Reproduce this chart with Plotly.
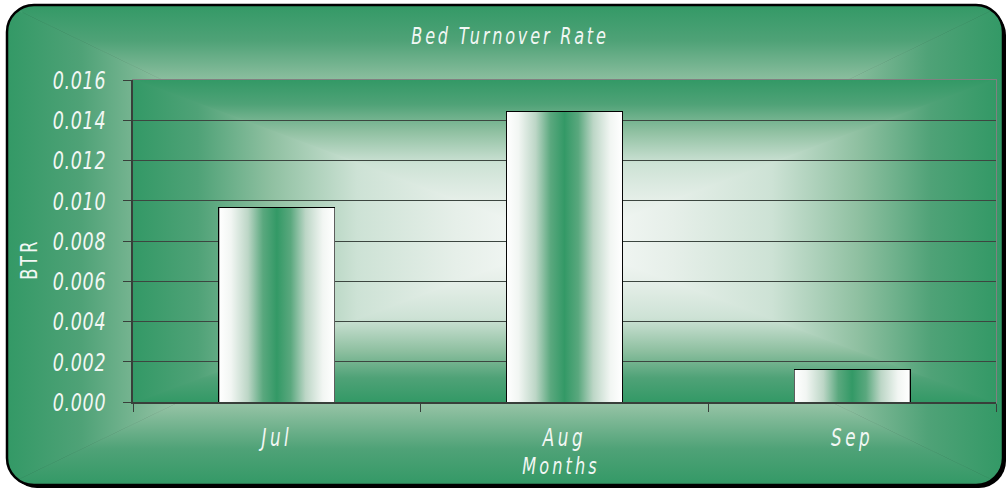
import base64
import plotly.graph_objects as go

# ---- data ----
months = ["Jul", "Aug", "Sep"]
btr = [0.00964, 0.01441, 0.00159]
y_ticks = [0.000, 0.002, 0.004, 0.006, 0.008, 0.010, 0.012, 0.014, 0.016]

title_text = "Bed Turnover Rate"
x_title = "Months"
y_title = "BTR"

# ---- style ----
W, H = 1008, 491
ML, MR, MT, MB = 133, 12, 80, 89
GREEN = "#339966"
FONT = "DejaVu Sans, sans-serif"
TXT = "#f2f7f4"
BAR_W = 0.4
AX = "#383f3a"

grad_stops = [(0, GREEN), (0.15, "#4fa277"), (0.32, "#8fc0a1"), (0.52, "#cde2d5"),
              (0.75, "#e6efe9"), (1, "#f9fbfa")]


def lin_grad(gid, x1, y1, x2, y2):
    stops = "".join(f"<stop offset='{o}' stop-color='{c}'/>" for o, c in grad_stops)
    return (f"<linearGradient id='{gid}' gradientUnits='userSpaceOnUse' x1='{x1}' y1='{y1}' "
            f"x2='{x2}' y2='{y2}'>{stops}</linearGradient>")


def rect_gradient(x0, y0, x1, y1):
    cx, cy = (x0 + x1) / 2, (y0 + y1) / 2
    defs = (lin_grad("gt", 0, y0, 0, cy) + lin_grad("gb", 0, y1, 0, cy)
            + lin_grad("gl", x0, 0, cx, 0) + lin_grad("gr", x1, 0, cx, 0))
    tris = [
        ("gt", f"{x0},{y0} {x1},{y0} {cx},{cy}"),
        ("gb", f"{x0},{y1} {x1},{y1} {cx},{cy}"),
        ("gl", f"{x0},{y0} {x0},{y1} {cx},{cy}"),
        ("gr", f"{x1},{y0} {x1},{y1} {cx},{cy}"),
    ]
    body = "".join(f"<polygon points='{p}' fill='url(#{g})' stroke='url(#{g})' stroke-width='0.6'/>"
                   for g, p in tris)
    return defs, body


# chart-area background (rounded rectangle with shadow)
rx0, ry0, rx1, ry1 = 7, 5, 1003, 485
d1, b1 = rect_gradient(rx0, ry0, rx1, ry1)
svg_chart = (
    f"<svg xmlns='http://www.w3.org/2000/svg' width='{W}' height='{H}' viewBox='0 0 {W} {H}' "
    f"preserveAspectRatio='none'><defs>{d1}<clipPath id='c'><rect x='{rx0}' y='{ry0}' "
    f"width='{rx1-rx0}' height='{ry1-ry0}' rx='27'/></clipPath></defs>"
    f"<rect x='{rx0+3}' y='{ry0+3}' width='{rx1-rx0}' height='{ry1-ry0}' rx='27' fill='#000'/>"
    f"<g clip-path='url(#c)'>{b1}</g>"
    f"<rect x='{rx0}' y='{ry0}' width='{rx1-rx0}' height='{ry1-ry0}' rx='27' fill='none' "
    f"stroke='#000' stroke-width='2.5'/></svg>"
)
d2, b2 = rect_gradient(0, 0, 100, 100)
svg_plot = (
    "<svg xmlns='http://www.w3.org/2000/svg' width='100' height='100' viewBox='0 0 100 100' "
    f"preserveAspectRatio='none'><defs>{d2}</defs>{b2}</svg>"
)


def uri(s):
    return "data:image/svg+xml;base64," + base64.b64encode(s.encode()).decode()


pw, ph = W - ML - MR, H - MT - MB

bar_scale = [[0, "#ffffff"], [0.1, "#f2f6f3"], [0.25, "#bcd6c6"], [0.38, "#5aa87e"],
             [0.5, GREEN], [0.62, "#5aa87e"], [0.75, "#bcd6c6"], [0.9, "#f2f6f3"], [1, "#ffffff"]]

pos = list(range(len(months)))
fig = go.Figure()
for i, v in zip(pos, btr):
    fig.add_trace(go.Scatter(
        x=[i - BAR_W / 2, i + BAR_W / 2, i + BAR_W / 2, i - BAR_W / 2, i - BAR_W / 2],
        y=[0, 0, v, v, 0], mode="lines", fill="toself", line=dict(width=0),
        fillgradient=dict(type="horizontal", colorscale=bar_scale),
        hoverinfo="skip", showlegend=False))
fig.add_trace(go.Bar(x=pos, y=btr, width=BAR_W, marker=dict(color="rgba(0,0,0,0)",
                     line=dict(color="#000", width=2)), showlegend=False,
                     hovertext=months, name="BTR"))

fig.update_layout(
    width=W, height=H, margin=dict(l=ML, r=MR, t=MT, b=MB, autoexpand=False),
    paper_bgcolor="white", plot_bgcolor="rgba(0,0,0,0)",
    title=dict(text=title_text, x=510 / W, xanchor="center", y=1 - 36 / H, yanchor="middle",
               yref="container", font=dict(family=FONT, size=23, color=TXT, style="italic")),
    images=[
        dict(source=uri(svg_chart), xref="paper", yref="paper", x=-ML / pw, y=1 + MT / ph,
             sizex=W / pw, sizey=H / ph, sizing="stretch", layer="below", xanchor="left",
             yanchor="top"),
        dict(source=uri(svg_plot), xref="x domain", yref="y domain", x=0, y=1, sizex=1, sizey=1,
             sizing="stretch", layer="below", xanchor="left", yanchor="top"),
    ],
    shapes=[dict(type="rect", xref="x domain", yref="y domain", x0=0, x1=1, y0=0, y1=1,
                 line=dict(color="#808080", width=2), layer="below")],
    annotations=[
        dict(text=x_title, xref="paper", yref="paper", x=(561 - ML) / pw,
             y=-(466 - (H - MB)) / ph, xanchor="center", yanchor="middle", showarrow=False,
             font=dict(family=FONT, size=23, color=TXT, style="italic")),
        dict(text=y_title, xref="paper", yref="paper", x=(29 - ML) / pw,
             y=((H - MB) - 259) / ph, xanchor="center", yanchor="middle", showarrow=False,
             textangle=-90, font=dict(family=FONT, size=23, color=TXT)),
    ],
    bargap=0,
)
fig.update_xaxes(
    range=[-0.5, 2.5], tickvals=pos, ticktext=months, ticks="", showgrid=False,
    zeroline=False, showline=True, linecolor=AX, linewidth=1.5, automargin=False,
    ticklabelstandoff=13, tickfont=dict(family=FONT, size=24, color=TXT, style="italic"),
    minor=dict(tickvals=[-0.5, 0.5, 1.5, 2.5], ticks="outside", ticklen=8,
               tickcolor=AX, tickwidth=1, showgrid=False),
)
fig.update_yaxes(
    range=[0, 0.016], tickvals=y_ticks, tickformat=".3f", ticks="outside", ticklen=8,
    tickcolor=AX, showgrid=True, gridcolor="#3c4640", gridwidth=1,
    zeroline=False, showline=True, linecolor=AX, linewidth=1.5, automargin=False,
    ticklabelstandoff=12, tickfont=dict(family=FONT, size=25, color=TXT, style="italic"),
)

post = """
document.body.style.margin = '0';
var gd = document.getElementById('{plot_id}');
function fix(sel, sp, sx) {
  gd.querySelectorAll(sel).forEach(function (t) {
    t.style.letterSpacing = sp + 'px';
    var cur = t.getAttribute('transform') || '';
    if (t.__mine && cur === t.__mine) return;
    var x = parseFloat(t.getAttribute('x')) || 0, y = parseFloat(t.getAttribute('y')) || 0;
    var nt = cur + ' translate(' + x + ',' + y + ') scale(' + sx + ',1) translate(' + (-x) + ',' + (-y) + ')';
    t.setAttribute('transform', nt);
    t.__mine = nt;
  });
}
function ls() {
  fix('.gtitle', 4, 0.7);
  fix('.xtick text', 5, 0.7);
  fix('.ytick text', 1, 0.7);
  fix('.annotation-text', 4.5, 0.7);
}
ls();
if (gd.on) { gd.on('plotly_afterplot', ls); }
"""
fig.write_html("out.html", post_script=post, config={"displayModeBar": False})
